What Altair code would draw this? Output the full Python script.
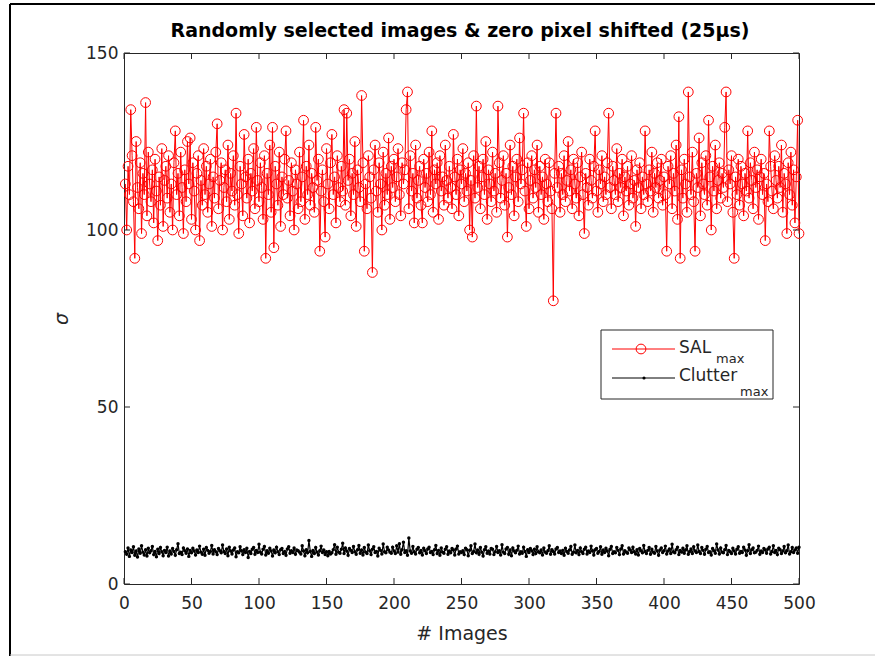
import altair as alt
import pandas as pd

# ---------------- data ----------------
sal_rows = [
    [113, 100, 118, 110, 134, 121, 108, 92, 125, 112, 106, 119, 99, 116, 110, 136, 104, 122, 113, 108],
    [117, 102, 120, 111, 97, 115, 107, 123, 101, 114, 118, 109, 121, 105, 113, 100, 119, 128, 110, 116],
    [104, 122, 112, 99, 117, 108, 125, 113, 126, 103, 119, 111, 100, 116, 121, 97, 114, 107, 123, 110],
    [118, 105, 113, 120, 101, 115, 109, 122, 130, 106, 114, 119, 100, 112, 117, 108, 124, 103, 116, 111],
    [121, 107, 133, 110, 99, 118, 113, 104, 127, 115, 109, 120, 102, 116, 111, 123, 106, 129, 114, 108],
    [119, 112, 103, 121, 92, 116, 110, 124, 105, 129, 95, 118, 113, 107, 122, 101, 115, 110, 120, 128],
    [109, 114, 104, 119, 111, 100, 117, 113, 106, 122, 108, 115, 131, 103, 118, 110, 124, 107, 116, 112],
    [105, 129, 114, 120, 94, 111, 117, 108, 98, 123, 113, 106, 119, 127, 110, 115, 102, 121, 112, 108],
    [118, 111, 134, 107, 133, 114, 120, 104, 116, 110, 125, 101, 117, 112, 108, 138, 119, 94, 113, 106],
    [121, 115, 109, 88, 117, 124, 111, 105, 119, 113, 100, 122, 107, 116, 110, 126, 103, 118, 112, 120],
    [108, 115, 123, 110, 104, 119, 113, 117, 134, 139, 106, 121, 111, 116, 102, 124, 109, 114, 118, 107],
    [102, 120, 112, 116, 108, 122, 110, 128, 105, 117, 113, 119, 103, 121, 111, 115, 107, 124, 114, 109],
    [118, 112, 106, 127, 115, 110, 120, 104, 117, 113, 123, 108, 116, 111, 119, 100, 114, 98, 121, 109],
    [135, 112, 118, 106, 115, 120, 110, 125, 103, 117, 113, 108, 122, 111, 116, 105, 135, 119, 109, 114],
    [121, 107, 116, 98, 112, 124, 110, 118, 104, 115, 120, 108, 126, 113, 117, 133, 111, 101, 119, 106],
    [114, 121, 109, 117, 112, 124, 105, 118, 110, 115, 103, 120, 113, 108, 119, 111, 106, 80, 116, 133],
    [112, 118, 105, 116, 110, 121, 108, 114, 125, 111, 117, 106, 120, 113, 109, 119, 104, 115, 122, 110],
    [99, 116, 112, 107, 120, 114, 109, 118, 128, 111, 105, 117, 113, 121, 108, 115, 110, 119, 133, 112],
    [106, 118, 114, 110, 123, 108, 116, 112, 120, 104, 115, 111, 118, 107, 113, 121, 109, 114, 101, 117],
    [112, 119, 106, 115, 110, 128, 113, 108, 117, 111, 122, 105, 116, 112, 119, 109, 114, 120, 107, 115],
    [110, 94, 118, 113, 121, 106, 116, 111, 124, 103, 132, 92, 117, 109, 120, 113, 105, 139, 115, 110],
    [122, 108, 94, 116, 112, 126, 104, 119, 113, 110, 121, 107, 131, 115, 100, 118, 111, 124, 106, 114],
    [119, 109, 116, 112, 129, 139, 108, 117, 113, 121, 105, 92, 115, 110, 120, 107, 118, 113, 104, 116],
    [111, 128, 109, 119, 114, 106, 122, 112, 117, 103, 115, 120, 110, 116, 97, 113, 108, 128, 118, 111],
    [106, 121, 114, 109, 118, 112, 124, 105, 116, 113, 99, 119, 110, 122, 107, 117, 102, 115, 131, 99],
]

clutter_rows = [
    [9.1, 8.4, 10.2, 7.8, 9.6, 8.9, 10.5, 8.1, 9.3, 7.6, 9.9, 8.7, 10.8, 9.0, 8.2, 9.7, 7.9, 10.1, 8.8, 9.4, 10.6, 8.3, 9.2, 7.7, 9.8],
    [8.6, 10.3, 9.1, 8.0, 9.5, 8.9, 10.4, 7.9, 9.3, 8.5, 10.0, 9.2, 8.1, 9.7, 11.4, 8.6, 9.0, 8.3, 10.2, 9.4, 8.7, 9.9, 7.8, 9.5, 8.8],
    [10.1, 9.3, 8.2, 9.6, 8.9, 10.7, 9.0, 8.4, 9.8, 8.1, 10.3, 9.5, 8.7, 9.2, 10.9, 8.5, 9.7, 9.1, 8.3, 10.0, 9.4, 8.8, 11.0, 9.2, 8.6],
    [9.9, 8.0, 10.4, 9.3, 8.5, 9.6, 10.2, 7.7, 9.1, 8.8, 10.5, 9.4, 8.3, 9.7, 8.9, 10.1, 7.5, 9.2, 8.6, 9.8, 10.3, 8.4, 9.5, 8.9, 11.2],
    [9.0, 8.5, 9.8, 10.6, 8.2, 9.4, 8.7, 10.1, 9.3, 7.9, 9.6, 8.8, 10.4, 9.1, 8.3, 9.7, 10.0, 8.6, 9.2, 8.1, 9.9, 10.5, 8.7, 9.4, 8.9],
    [10.2, 8.4, 9.6, 9.4, 9.0, 8.5, 10.8, 9.3, 8.0, 9.7, 8.8, 12.3, 9.2, 7.8, 9.5, 8.6, 10.3, 9.0, 8.2, 9.4, 10.7, 8.9, 9.6, 8.3, 9.1],
    [8.0, 9.2, 8.5, 8.8, 9.7, 11.1, 8.4, 10.4, 9.0, 8.7, 9.8, 11.5, 8.6, 10.2, 9.3, 8.1, 10.0, 9.5, 8.9, 10.6, 9.1, 8.4, 9.7, 10.9, 8.7],
    [9.6, 8.2, 10.3, 9.0, 8.6, 11.0, 9.4, 8.3, 9.8, 10.5, 8.9, 9.2, 7.9, 10.1, 9.5, 8.5, 11.3, 9.1, 8.8, 10.4, 9.6, 9.0, 8.7, 10.4, 9.3],
    [8.6, 10.8, 9.0, 11.4, 8.4, 9.7, 11.8, 8.9, 9.4, 8.1, 13.0, 9.3, 8.7, 10.6, 9.1, 8.5, 9.8, 10.3, 8.8, 9.5, 8.2, 10.1, 9.4, 8.6, 9.9],
    [10.4, 8.9, 9.2, 8.3, 9.7, 10.9, 8.6, 9.5, 8.1, 10.2, 9.0, 8.7, 9.8, 10.5, 8.4, 9.3, 8.8, 10.0, 9.6, 8.2, 9.9, 10.7, 8.5, 9.1, 8.9],
    [9.4, 8.3, 10.1, 9.7, 8.0, 9.5, 10.8, 8.6, 9.2, 11.3, 8.8, 9.6, 8.4, 10.3, 9.0, 7.9, 9.7, 10.5, 8.7, 9.3, 8.5, 10.0, 9.8, 8.3, 9.1],
    [10.6, 8.9, 9.4, 8.2, 11.1, 9.0, 8.6, 9.9, 10.3, 8.4, 9.6, 8.0, 10.2, 9.3, 8.8, 9.5, 10.7, 8.5, 9.1, 8.7, 10.4, 9.2, 7.8, 9.7, 8.9],
    [10.0, 9.4, 8.3, 9.8, 8.6, 10.5, 9.1, 8.8, 9.6, 8.2, 10.2, 9.0, 8.7, 9.4, 10.8, 8.4, 9.7, 9.2, 8.5, 9.9, 10.3, 8.9, 9.3, 8.6, 9.5],
    [8.1, 10.1, 9.2, 8.7, 9.6, 10.6, 8.4, 9.0, 11.0, 8.8, 9.5, 8.3, 10.2, 9.1, 8.6, 9.8, 10.4, 8.5, 9.3, 8.9, 10.7, 9.4, 8.2, 9.7, 10.0],
    [8.7, 9.2, 10.5, 8.4, 9.6, 8.9, 10.1, 9.3, 8.0, 9.8, 10.6, 8.6, 9.1, 8.8, 10.3, 9.5, 8.3, 9.9, 10.8, 8.5, 9.4, 9.0, 8.7, 10.2, 9.6],
    [8.9, 10.4, 9.1, 8.5, 9.7, 8.2, 10.0, 9.4, 8.8, 10.9, 9.2, 8.6, 9.5, 10.3, 8.4, 9.8, 9.0, 8.7, 10.6, 9.3, 8.1, 9.6, 10.2, 8.9, 9.4],
    [10.7, 8.5, 9.3, 9.9, 8.6, 11.2, 9.1, 8.8, 9.7, 10.4, 8.3, 9.5, 9.0, 10.1, 8.7, 9.6, 10.8, 8.4, 9.2, 9.9, 8.6, 10.5, 9.3, 8.9, 11.0],
    [9.2, 8.6, 10.3, 9.5, 8.4, 9.8, 10.6, 8.9, 9.1, 8.2, 10.0, 9.4, 8.7, 11.3, 9.6, 8.5, 10.2, 9.0, 8.8, 9.7, 10.9, 8.3, 9.5, 9.1, 8.6],
    [10.1, 9.3, 8.5, 9.8, 10.5, 8.7, 9.2, 8.9, 10.4, 9.6, 8.1, 9.4, 11.1, 8.6, 9.7, 10.2, 8.8, 9.0, 9.5, 10.7, 8.4, 9.3, 8.9, 10.0, 9.6],
    [8.7, 9.9, 10.4, 8.5, 9.2, 10.8, 8.9, 9.5, 8.3, 10.1, 9.7, 8.6, 9.3, 10.6, 8.8, 9.4, 11.0, 8.5, 9.1, 10.3, 8.9, 9.6, 10.2, 8.7, 10.4],
]

x_tick_values = [0, 50, 100, 150, 200, 250, 300, 350, 400, 450, 500]
y_tick_values = [0, 50, 100, 150]

title_text = "Randomly selected images & zero pixel shifted (25\u03bcs)"
x_title = "# Images"
y_title = "\u03c3"
legend_names = ["SAL", "Clutter"]
legend_sub = "max"

# ---------------- build tables ----------------
sal = [v for r in sal_rows for v in r]
clutter = [v for r in clutter_rows for v in r]
n = min(len(sal), len(clutter))
df = pd.DataFrame({"x": list(range(1, n + 1)), "sal": sal[:n], "clutter": clutter[:n]})
xt = pd.DataFrame({"x": x_tick_values})
yt = pd.DataFrame({"y": y_tick_values})
one = pd.DataFrame({"k": [0]})

W, H = 675, 531
FONT = "DejaVu Sans"
AX = "#262626"

xscale = alt.Scale(domain=[0, 500], nice=False, zero=False)
yscale = alt.Scale(domain=[0, 150], nice=False, zero=False)

xaxis = alt.Axis(values=x_tick_values, ticks=False, tickSize=0, domain=False, grid=False,
                 labelFlush=False, labelOverlap=False,
                 labelFont=FONT, labelFontSize=17, labelColor=AX, labelPadding=11,
                 titleFont=FONT, titleFontSize=19, titleFontWeight="normal", titleColor=AX,
                 titlePadding=13)
yaxis = alt.Axis(values=y_tick_values, ticks=False, tickSize=0, domain=False, grid=False,
                 labelFlush=False, labelOverlap=False,
                 labelFont=FONT, labelFontSize=17, labelColor=AX, labelPadding=6,
                 titleFont=FONT, titleFontSize=19, titleFontWeight="normal", titleColor=AX,
                 titleFontStyle="italic", titlePadding=14)

X = alt.X("x:Q", scale=xscale, axis=xaxis, title=x_title)

base = alt.Chart(df)

sal_line = base.mark_line(color="#ff0000", strokeWidth=1).encode(
    x=X, y=alt.Y("sal:Q", scale=yscale, axis=yaxis, title=y_title))
sal_pts = base.mark_point(shape="circle", filled=False, color="#ff0000", size=95,
                          strokeWidth=1, opacity=1).encode(
    x=X, y=alt.Y("sal:Q", scale=yscale, axis=yaxis, title=y_title))
cl_line = base.mark_line(color="#000000", strokeWidth=1.2).encode(
    x=X, y=alt.Y("clutter:Q", scale=yscale, axis=yaxis, title=y_title))
cl_pts = base.mark_point(shape="circle", filled=True, color="#000000", size=12, opacity=1).encode(
    x=X, y=alt.Y("clutter:Q", scale=yscale, axis=yaxis, title=y_title))

# inward ticks (box style)
tick_len = 6
xt_bottom = alt.Chart(xt).mark_rule(color=AX, strokeWidth=1).encode(
    x=X, y=alt.value(H), y2=alt.value(H - tick_len))
xt_top = alt.Chart(xt).mark_rule(color=AX, strokeWidth=1).encode(
    x=X, y=alt.value(0), y2=alt.value(tick_len))
yt_left = alt.Chart(yt).mark_rule(color=AX, strokeWidth=1).encode(
    y=alt.Y("y:Q", scale=yscale, axis=yaxis, title=y_title), x=alt.value(0), x2=alt.value(tick_len))
yt_right = alt.Chart(yt).mark_rule(color=AX, strokeWidth=1).encode(
    y=alt.Y("y:Q", scale=yscale, axis=yaxis, title=y_title), x=alt.value(W), x2=alt.value(W - tick_len))

# legend (drawn by hand to allow subscripts)
lb = alt.Chart(one)
leg_box = lb.mark_rect(fill="white", stroke=AX, strokeWidth=1).encode(
    x=alt.value(477), x2=alt.value(649), y=alt.value(277), y2=alt.value(346))
leg_l1 = lb.mark_rule(color="#ff0000", strokeWidth=1).encode(
    x=alt.value(488), x2=alt.value(551), y=alt.value(296))
leg_p1 = lb.mark_point(shape="circle", filled=False, color="#ff0000", size=95, strokeWidth=1, opacity=1).encode(
    x=alt.value(517), y=alt.value(296))
leg_l2 = lb.mark_rule(color="#000000", strokeWidth=1).encode(
    x=alt.value(488), x2=alt.value(551), y=alt.value(325))
leg_p2 = lb.mark_point(shape="circle", filled=True, color="#000000", size=10, opacity=1).encode(
    x=alt.value(520), y=alt.value(325))
leg_t1 = lb.mark_text(font=FONT, fontSize=17, color=AX, align="left", baseline="middle").encode(
    x=alt.value(555), y=alt.value(295), text=alt.value(legend_names[0]))
leg_s1 = lb.mark_text(font=FONT, fontSize=13, color=AX, align="left", baseline="middle").encode(
    x=alt.value(592), y=alt.value(306), text=alt.value(legend_sub))
leg_t2 = lb.mark_text(font=FONT, fontSize=17, color=AX, align="left", baseline="middle").encode(
    x=alt.value(555), y=alt.value(323), text=alt.value(legend_names[1]))
leg_s2 = lb.mark_text(font=FONT, fontSize=13, color=AX, align="left", baseline="middle").encode(
    x=alt.value(616), y=alt.value(339), text=alt.value(legend_sub))

# chart title as text (bold, centred over the plot)
title_mark = lb.mark_text(font=FONT, fontSize=19, fontWeight="bold", color="#000000",
                          align="center", baseline="middle").encode(
    x=alt.value(336), y=alt.value(-22), text=alt.value(title_text))

# outer figure frame
frame_top = lb.mark_rule(color="#000000", strokeWidth=2).encode(
    x=alt.value(-114), x2=alt.value(760), y=alt.value(-49))
frame_left = lb.mark_rule(color="#000000", strokeWidth=2).encode(
    x=alt.value(-114), y=alt.value(-49), y2=alt.value(603))
frame_bottom = lb.mark_rule(color="#c8c8c8", strokeWidth=1).encode(
    x=alt.value(-114), x2=alt.value(760), y=alt.value(602))

chart = alt.layer(
    sal_line, sal_pts, cl_line, cl_pts,
    xt_bottom, xt_top, yt_left, yt_right,
    leg_box, leg_l1, leg_p1, leg_l2, leg_p2, leg_t1, leg_s1, leg_t2, leg_s2,
    title_mark, frame_top, frame_left, frame_bottom,
).properties(
    width=W, height=H,
    autosize=alt.AutoSizeParams(type="none"),
    padding={"left": 124, "top": 53, "right": 76, "bottom": 73},
    background="white",
).configure_view(stroke=AX, strokeWidth=1)

chart.save("out.html", embed_options={"renderer": "svg", "actions": False})
